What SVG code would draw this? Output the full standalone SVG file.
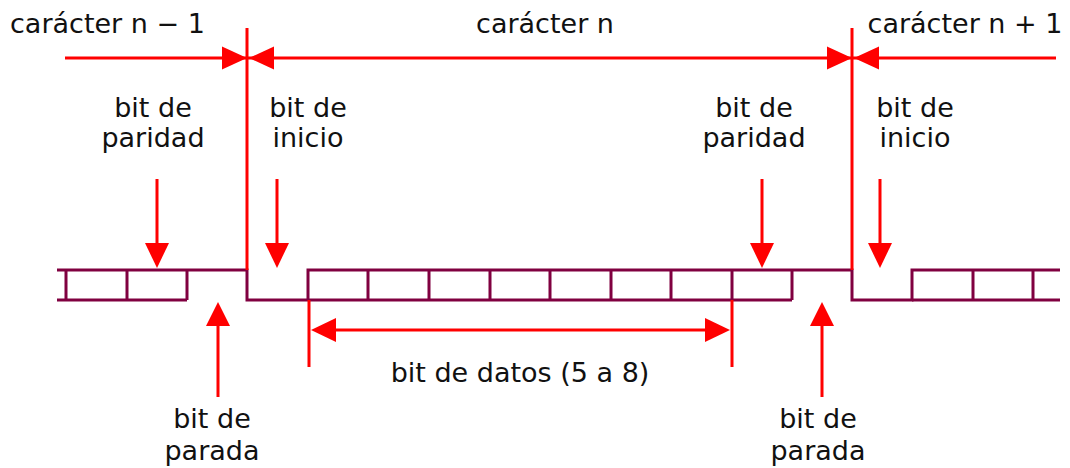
<svg xmlns="http://www.w3.org/2000/svg" width="1070" height="468" viewBox="0 0 1070 468">
<style>
.t{font-family:"DejaVu Sans","Verdana",sans-serif;font-size:27px;fill:#111;text-anchor:middle}
.l{font-family:"DejaVu Sans","Verdana",sans-serif;font-size:27px;fill:#111}
.r{stroke:#ff0000;stroke-width:3;fill:none}
.h{fill:#ff0000;stroke:none}
.s{stroke:#800040;stroke-width:3;fill:none;stroke-linejoin:miter}
</style>
<rect width="1070" height="468" fill="#ffffff"/>
<g id="signal">
<path class="s" d="M57,270 H247 V300 H308 V270 H852 V300 H912 V270 H1060"/>
<path class="s" d="M57,300 H187 M308,300 H792 M912,300 H1060"/>
<path class="s" d="M66,270 V300 M127,270 V300 M187,270 V300 M368,270 V300 M429,270 V300 M490,270 V300 M550,270 V300 M611,270 V300 M671,270 V300 M732,270 V300 M792,270 V300 M973,270 V300 M1033,270 V300"/>
</g>
<g id="connectors">
<path class="r" d="M247,28 V270 M852,28 V270"/>
<path class="r" d="M65,58 H1056"/>
<polygon class="h" points="247,58 222,46.5 222,69.5"/>
<polygon class="h" points="249,58 274,46.5 274,69.5"/>
<polygon class="h" points="852,58 827,46.5 827,69.5"/>
<polygon class="h" points="854,58 879,46.5 879,69.5"/>
<path class="r" d="M157,179 V246 M277,179 V246 M762,179 V246 M880,179 V246"/>
<polygon class="h" points="157,268 145,243 169,243"/>
<polygon class="h" points="277,268 265,243 289,243"/>
<polygon class="h" points="762,268 750,243 774,243"/>
<polygon class="h" points="880,268 868,243 892,243"/>
<path class="r" d="M218,322 V397 M822,322 V397"/>
<polygon class="h" points="218,302 206,326 230,326"/>
<polygon class="h" points="822,302 810,326 834,326"/>
<path class="r" d="M309,300 V367 M732,300 V367 M330,330 H712"/>
<polygon class="h" points="311,330 336,318 336,342"/>
<polygon class="h" points="730,330 705,318 705,342"/>
</g>
<g id="label-char-prev"><text class="l" x="10" y="33">carácter n − 1</text></g>
<g id="label-char"><text class="t" x="545" y="33">carácter n</text></g>
<g id="label-char-next"><text class="t" x="965" y="33">carácter n + 1</text></g>
<g id="label-parity-1"><text class="t" x="153" y="117">bit de</text><text class="t" x="153" y="147">paridad</text></g>
<g id="label-start-1"><text class="t" x="308" y="117">bit de</text><text class="t" x="308" y="147">inicio</text></g>
<g id="label-parity-2"><text class="t" x="754" y="117">bit de</text><text class="t" x="754" y="147">paridad</text></g>
<g id="label-start-2"><text class="t" x="915" y="117">bit de</text><text class="t" x="915" y="147">inicio</text></g>
<g id="label-data"><text class="t" x="520" y="382">bit de datos (5 a 8)</text></g>
<g id="label-stop-1"><text class="t" x="212" y="428">bit de</text><text class="t" x="212" y="460">parada</text></g>
<g id="label-stop-2"><text class="t" x="818" y="428">bit de</text><text class="t" x="818" y="460">parada</text></g>
</svg>
